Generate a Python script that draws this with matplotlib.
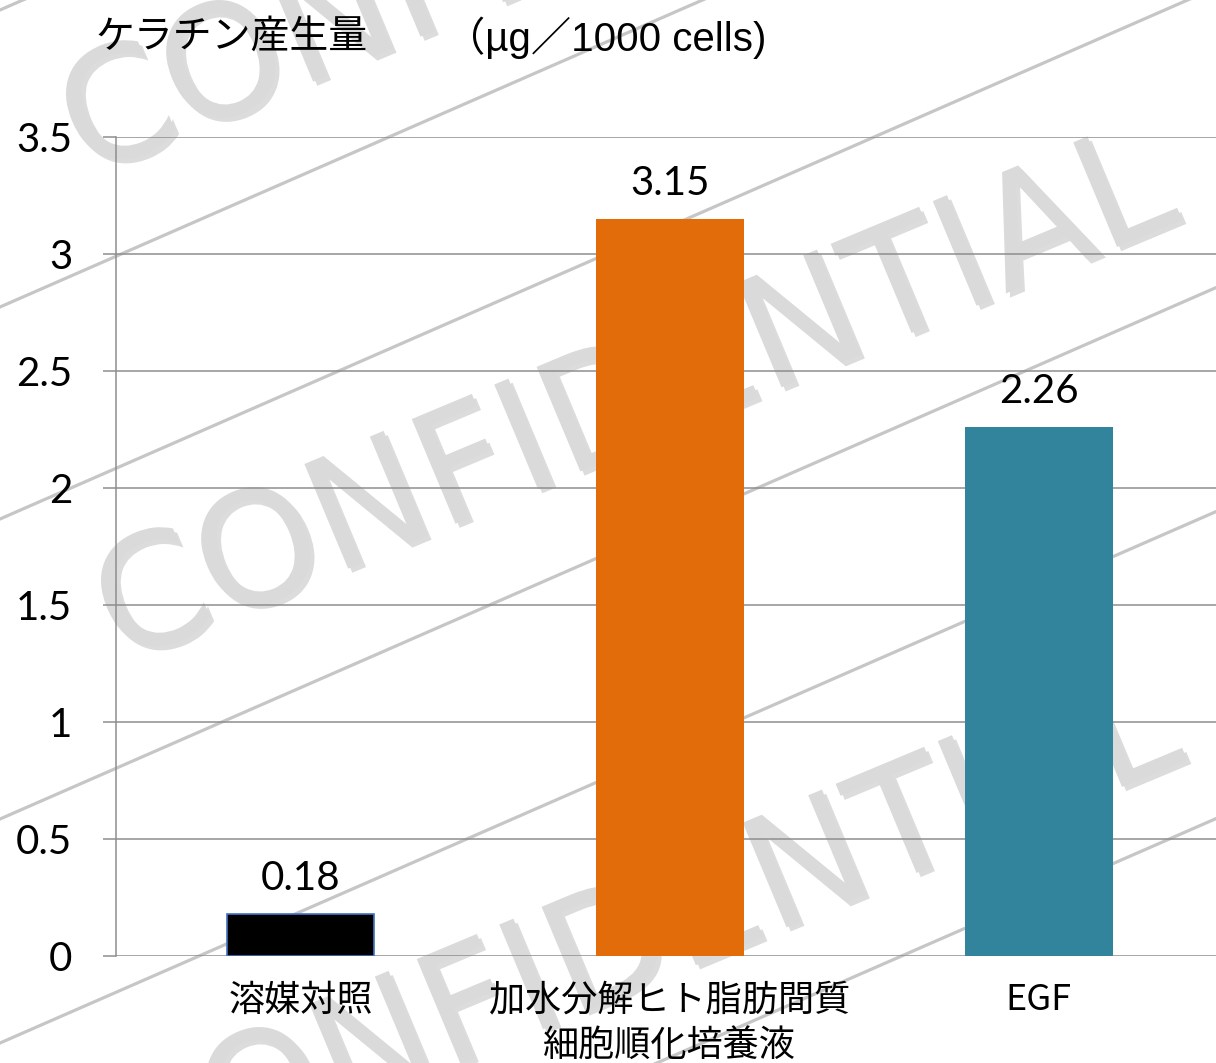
import matplotlib
matplotlib.use("Agg")
import matplotlib.pyplot as plt
import matplotlib.patheffects as pe
from matplotlib.lines import Line2D

# ---- data ----
categories = ["溶媒対照", "加水分解ヒト脂肪間質\n細胞順化培養液", "EGF"]
values = [0.18, 3.15, 2.26]
value_labels = ["0.18", "3.15", "2.26"]
bar_colors = ["#000000", "#E36C0A", "#31849B"]
bar_edges = ["#4472C4", "none", "none"]
yticks = [0, 0.5, 1, 1.5, 2, 2.5, 3, 3.5]
ytick_labels = ["0", "0.5", "1", "1.5", "2", "2.5", "3", "3.5"]
title_main = "ケラチン産生量"
title_unit = "（µg／1000 cells)"
watermark = "CONFIDENTIAL"

W, H = 1216, 1063
fig = plt.figure(figsize=(W / 100, H / 100), dpi=100)
fig.patch.set_facecolor("white")

# ---- watermark (background decoration) ----
slope = 0.437
for y0 in [10, 307, 519, 819, 1043, 1350]:
    y1 = y0 - slope * W
    fig.add_artist(Line2D([0, 1], [1 - y0 / H, 1 - y1 / H], transform=fig.transFigure,
                          color="#c6c6c6", lw=2.3, zorder=-3))
shadow = [pe.SimplePatchShadow(offset=(3, -3), shadow_rgbFace="#a8a8a8", alpha=0.4), pe.Normal()]
for cx, cy in [(600, -85), (635, 402), (640, 942)]:
    fig.text(cx / W, 1 - cy / H, watermark, rotation=22.7, rotation_mode="anchor",
             ha="center", va="center", fontsize=112, color="#dadada",
             family="DejaVu Sans", zorder=-2, path_effects=shadow)

# ---- axes ----
ax = fig.add_axes([116 / W, 1 - 956 / H, 1 - 116 / W, (956 - 137) / H])
ax.set_facecolor("none")
x = list(range(len(categories)))
bars = ax.bar(x, values, width=0.4, color=bar_colors, edgecolor=bar_edges,
              linewidth=1.2, zorder=3)
ax.bar_label(bars, labels=value_labels, padding=12, fontsize=29,
             family="Lato", color="black")

ax.set_xlim(-0.5, 2.48)
ax.set_ylim(0, 3.5)
ax.set_yticks(yticks)
ax.set_yticklabels(ytick_labels, fontsize=29, family="Lato")
ax.set_xticks(x)
ax.set_xticklabels(categories, fontsize=26, family=["Noto Sans CJK JP", "DejaVu Sans"],
                   linespacing=1.32)

ax.grid(axis="y", color="#8e8e8e", lw=1.1, zorder=1)
ax.set_axisbelow(True)
for s in ["top", "right", "bottom"]:
    ax.spines[s].set_visible(False)
ax.spines["left"].set_color("#8e8e8e")
ax.spines["left"].set_linewidth(1.1)
ax.tick_params(axis="y", length=9.4, width=1.1, color="#8e8e8e", pad=22)
ax.tick_params(axis="x", length=0, pad=19)

# ---- title ----
fig.text(95 / W, 1 - 38 / H, title_main, fontsize=28, family=["Noto Sans CJK JP", "DejaVu Sans"],
         ha="left", va="center")
fig.text(445 / W, 1 - 38 / H, title_unit, fontsize=29,
         family=["Liberation Sans", "Noto Sans CJK JP", "DejaVu Sans"],
         ha="left", va="center")

fig.savefig("out.png", dpi=100)
